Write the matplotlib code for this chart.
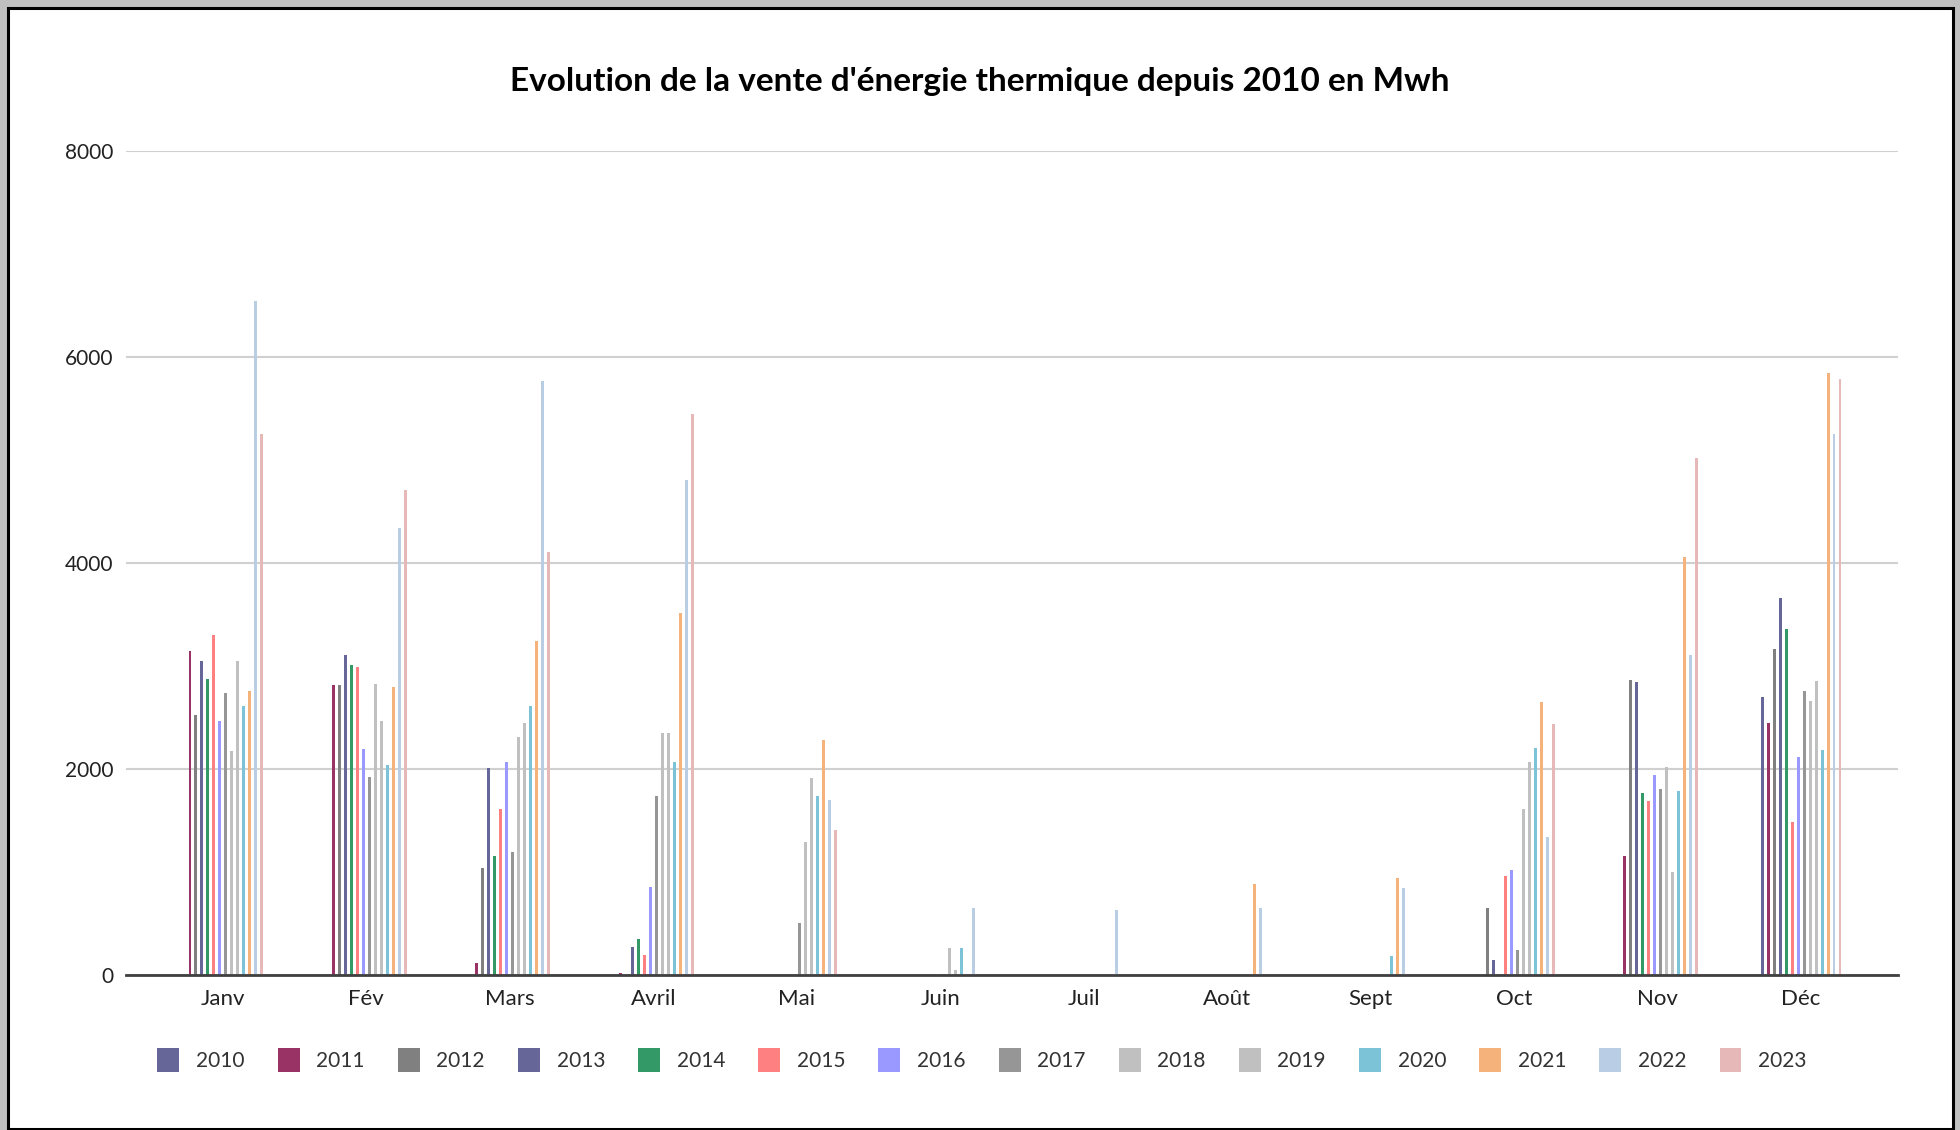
import numpy as np
import matplotlib.pyplot as plt
from matplotlib.patches import Rectangle

plt.rcParams['font.family'] = ['Lato', 'DejaVu Sans']

months = ['Janv', 'Fév', 'Mars', 'Avril', 'Mai', 'Juin', 'Juil', 'Août', 'Sept', 'Oct', 'Nov', 'Déc']
years = ['2010', '2011', '2012', '2013', '2014', '2015', '2016',
         '2017', '2018', '2019', '2020', '2021', '2022', '2023']

# ventes mensuelles en MWh, une liste par année (Janv..Déc)
v2010 = [0, 0, 0, 0, 0, 0, 0, 0, 0, 0, 0, 2696]
v2011 = [3147, 2812, 120, 20, 0, 0, 0, 0, 0, 0, 1160, 2446]
v2012 = [2522, 2812, 1036, 0, 0, 0, 0, 0, 0, 654, 2860, 3164]
v2013 = [3049, 3102, 2013, 270, 0, 0, 0, 0, 0, 143, 2840, 3656]
v2014 = [2870, 3009, 1156, 349, 0, 0, 0, 0, 0, 0, 1766, 3359]
v2015 = [3303, 2986, 1607, 194, 0, 0, 0, 0, 0, 966, 1687, 1485]
v2016 = [2464, 2192, 2071, 853, 0, 0, 0, 0, 0, 1024, 1941, 2112]
v2017 = [2741, 1924, 1192, 1734, 504, 10, 0, 0, 0, 244, 1803, 2755]
v2018 = [2170, 2830, 2308, 2345, 1288, 259, 0, 0, 0, 1613, 2018, 2660]
v2019 = [3049, 2464, 2442, 2345, 1915, 49, 0, 0, 0, 2065, 999, 2850]
v2020 = [2616, 2036, 2616, 2071, 1735, 259, 0, 0, 181, 2202, 1784, 2187]
v2021 = [2754, 2799, 3245, 3512, 2285, 0, 0, 884, 943, 2654, 4061, 5840]
v2022 = [6544, 4339, 5763, 4801, 1696, 648, 631, 648, 846, 1340, 3109, 5252]
v2023 = [5254, 4710, 4102, 5448, 1404, 0, 0, 0, 0, 2436, 5018, 5784]

series = [v2010, v2011, v2012, v2013, v2014, v2015, v2016,
          v2017, v2018, v2019, v2020, v2021, v2022, v2023]

colors = ['#666699', '#993366', '#808080', '#666699', '#339966', '#FF8080', '#9999FF',
          '#969696', '#C0C0C0', '#C0C0C0', '#7DC3D8', '#F5B37B', '#B9CDE5', '#E6B9B8']

W, H = 1960, 1130
fig = plt.figure(figsize=(W / 100, H / 100), dpi=100)
fig.patch.set_facecolor('#C0C0C0')

# cadre blanc avec bordure noire
fig.patches.append(Rectangle((7.5 / W, 1.5 / H), (1952.5 - 7.5) / W, (H - 7.5 - 1.5) / H,
                             transform=fig.transFigure, facecolor='white',
                             edgecolor='black', linewidth=2.2, zorder=-10))

ax = fig.add_axes([126 / W, 1 - 975 / H, (1898 - 126) / W, (975 - 151) / H])
ax.set_facecolor('white')

x = np.arange(len(months))
step = 0.0418
width = 0.019
n = len(series)
bars = []
for i, (vals, col) in enumerate(zip(series, colors)):
    offset = (i - (n - 1) / 2) * step
    b = ax.bar(x + offset, vals, width, color=col, label=years[i], zorder=3, linewidth=0)
    bars.append(b)

pad = 0.175
ax.set_xlim(-0.5 - pad, 11.5 + pad)
ax.set_ylim(0, 8000)
ax.set_yticks([0, 2000, 4000, 6000, 8000])
ax.set_xticks(x)
ax.set_xticklabels(months)
ax.tick_params(axis='both', length=0, labelsize=15, colors='#222222')
ax.tick_params(axis='x', labelsize=16, pad=10)
ax.tick_params(axis='y', pad=9)

ax.grid(axis='y', color='#D0D0D0', linewidth=1.5, zorder=0)
for s in ['top', 'right', 'left']:
    ax.spines[s].set_visible(False)
ax.spines['bottom'].set_color('#404040')
ax.spines['bottom'].set_linewidth(2)
ax.spines['bottom'].set_zorder(4)

fig.text(0.5, 1 - 81 / H, "Evolution de la vente d'énergie thermique depuis 2010 en Mwh",
         ha='center', va='center', fontsize=24, fontweight='bold', color='black')

fig.legend(handles=bars, labels=years, loc='center', ncol=14,
           bbox_to_anchor=(982 / W, 1 - 1060 / H), frameon=False,
           fontsize=15, handlelength=1.05, handleheight=1.45,
           handletextpad=0.8, columnspacing=1.59, labelcolor='#333333')

fig.savefig('out.png', dpi=100, facecolor=fig.get_facecolor())
